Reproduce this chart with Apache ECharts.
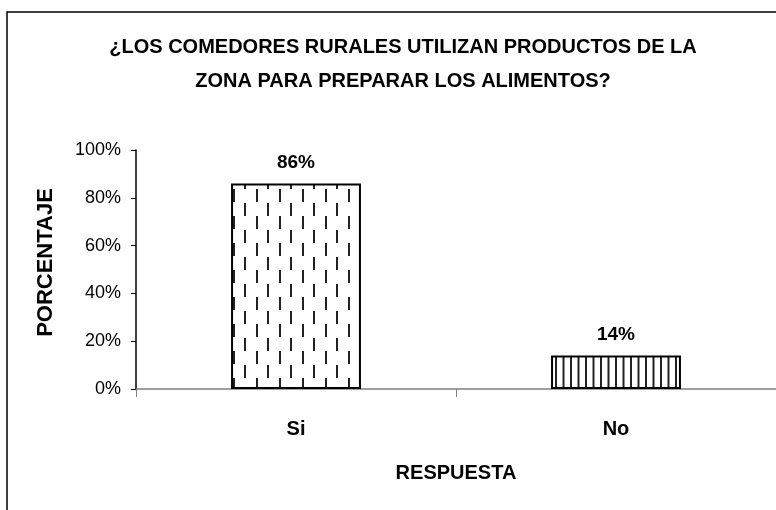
<!DOCTYPE html>
<html>
<head>
<meta charset="utf-8">
<script src="https://cdn.jsdelivr.net/npm/echarts@6/dist/echarts.min.js"></script>
<style>html,body{margin:0;padding:0;background:#fff;}#c{width:776px;height:510px;}</style>
</head>
<body>
<div id="c"></div>
<script>
var titleLines = ['¿LOS COMEDORES RURALES UTILIZAN PRODUCTOS DE LA', 'ZONA PARA PREPARAR LOS ALIMENTOS?'];
var categories = ['Si', 'No'];
var values = [86, 14];
var yTicks = [0, 20, 40, 60, 80, 100];
var xName = 'RESPUESTA';
var yName = 'PORCENTAJE';

function dashPattern() {
  var c = document.createElement('canvas');
  c.width = 23; c.height = 27;
  var g = c.getContext('2d');
  g.fillStyle = '#fff'; g.fillRect(0, 0, 23, 27);
  g.fillStyle = '#222';
  g.fillRect(3, 0, 2, 13);
  g.fillRect(14, 14, 2, 13);
  return c;
}
function linePattern() {
  var c = document.createElement('canvas');
  c.width = 15; c.height = 10;
  var g = c.getContext('2d');
  g.fillStyle = '#fff'; g.fillRect(0, 0, 15, 10);
  g.fillStyle = '#222';
  g.fillRect(0, 0, 2, 10);
  g.fillRect(7.5, 0, 2, 10);
  return c;
}
var patterns = [dashPattern(), linePattern()];

var chart = echarts.init(document.getElementById('c'));
var font = 'Liberation Sans, Arial, sans-serif';
chart.setOption({
  animation: false,
  backgroundColor: '#fff',
  title: titleLines.map(function (t, i) {
    return {
      text: t, left: 403, top: 37 + i * 34, textAlign: 'center',
      textStyle: { fontFamily: font, fontWeight: 'bold', fontSize: 20, color: '#000', lineHeight: 20 },
      padding: 0
    };
  }),
  graphic: [{
    type: 'rect', shape: { x: 7, y: 12, width: 900, height: 700 },
    style: { fill: null, stroke: '#000', lineWidth: 1.5 }, silent: true, z: -1
  }],
  grid: { left: 136, right: 0, top: 150, bottom: 121, containLabel: false },
  xAxis: {
    type: 'category', data: categories,
    name: xName, nameLocation: 'middle', nameGap: 74,
    nameTextStyle: { fontFamily: font, fontWeight: 'bold', fontSize: 20, color: '#000' },
    axisLine: { lineStyle: { color: '#808080', width: 1.5 } },
    axisTick: { show: true, length: 8, lineStyle: { color: '#808080' } },
    axisLabel: { margin: 30, fontFamily: font, fontWeight: 'bold', fontSize: 20, color: '#000' }
  },
  yAxis: {
    type: 'value', min: 0, max: 100, interval: 20,
    name: yName, nameLocation: 'middle', nameGap: 79, nameRotate: 90,
    nameTextStyle: { fontFamily: font, fontWeight: 'bold', fontSize: 22, color: '#000', padding: [0, 0, 0, 14] },
    axisLine: { show: true, lineStyle: { color: '#000', width: 1.5 } },
    axisTick: { show: true, length: 5, lineStyle: { color: '#000' } },
    splitLine: { show: false },
    axisLabel: {
      margin: 15, fontFamily: font, fontSize: 18, color: '#000',
      formatter: function (v) { return yTicks.indexOf(v) >= 0 ? v + '%' : ''; }
    }
  },
  series: [{
    type: 'bar', barWidth: '40.6%',
    data: values.map(function (v, i) {
      return {
        value: v,
        itemStyle: {
          color: { image: patterns[i], repeat: 'repeat' },
          borderColor: '#000', borderWidth: 2
        }
      };
    }),
    label: {
      show: true, position: 'top', distance: 11,
      formatter: '{c}%', fontFamily: font, fontWeight: 'bold', fontSize: 19, color: '#000'
    }
  }]
});
</script>
</body>
</html>
